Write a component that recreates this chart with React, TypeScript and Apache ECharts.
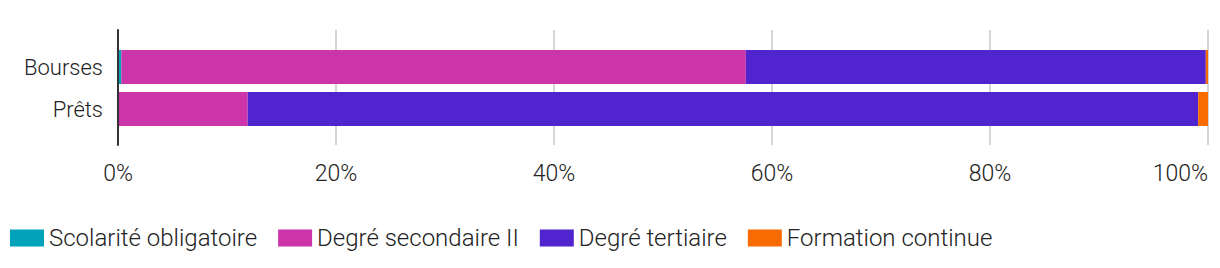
import React, { useEffect, useRef } from "react";
import * as echarts from "echarts";

const categories = ["Bourses", "Prêts"];
const seriesNames = ["Scolarité obligatoire", "Degré secondaire II", "Degré tertiaire", "Formation continue"];
const scolarite = [0.3, 0];
const secondaire = [57.3, 11.9];
const tertiaire = [42.2, 87.2];
const formation = [0.2, 0.9];
const colors = ["#00A3B9", "#CC35A9", "#5025CF", "#F76B00"];
const xTicks = [0, 20, 40, 60, 80, 100];

export default function App() {
  const ref = useRef<HTMLDivElement>(null);
  useEffect(() => {
    if (!ref.current) return;
    const chart = echarts.init(ref.current, undefined, { renderer: "svg" });
    const font = "Roboto";
    const values = [scolarite, secondaire, tertiaire, formation];
    chart.setOption({
      animation: false,
      textStyle: { fontFamily: font },
      color: colors,
      legend: {
        left: 5,
        top: 221,
        itemWidth: 34,
        itemHeight: 17,
        itemGap: 21,
        icon: "rect",
        textStyle: { fontSize: 24, fontWeight: 300, color: "#222", fontFamily: font },
        data: seriesNames,
      },
      grid: [
        { left: 118, right: 12, top: 30, height: 115 },
        { left: 118, right: 12, top: 46, height: 84 },
      ],
      xAxis: [
        {
          gridIndex: 0,
          type: "value",
          min: xTicks[0],
          max: xTicks[xTicks.length - 1],
          interval: 20,
          axisLine: { show: false },
          axisTick: { show: false },
          splitLine: { show: true, lineStyle: { color: "#d6d6d6", width: 2 } },
          axisLabel: {
            formatter: "{value}%",
            fontSize: 23,
            fontWeight: 300,
            color: "#222",
            margin: 17,
            fontFamily: font,
            alignMaxLabel: "right",
          },
        },
        {
          gridIndex: 1,
          type: "value",
          min: 0,
          max: 100,
          show: false,
        },
      ],
      yAxis: [
        {
          gridIndex: 0,
          type: "category",
          data: [""],
          axisLine: { show: true, lineStyle: { color: "#333", width: 2 } },
          axisTick: { show: false },
          axisLabel: { show: false },
          z: 10,
        },
        {
          gridIndex: 1,
          type: "category",
          inverse: true,
          data: categories,
          axisLine: { show: false },
          axisTick: { show: false },
          axisLabel: { fontSize: 22, fontWeight: 300, color: "#222", margin: 15, fontFamily: font },
        },
      ],
      series: seriesNames.map((name, i) => ({
        name,
        type: "bar",
        stack: "total",
        xAxisIndex: 1,
        yAxisIndex: 1,
        barWidth: 34,
        data: values[i],
        itemStyle: { color: colors[i] },
      })),
    });
    return () => chart.dispose();
  }, []);
  return (
    <div
      ref={ref}
      style={{ position: "absolute", left: 0, top: 0, width: 1220, height: 268 }}
    />
  );
}
